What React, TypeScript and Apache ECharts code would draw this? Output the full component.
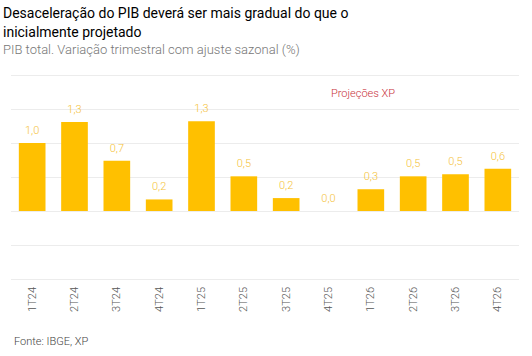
import React, { useEffect, useRef } from "react";
import * as echarts from "echarts";

const categories = ["1T24", "2T24", "3T24", "4T24", "1T25", "2T25", "3T25", "4T25", "1T26", "2T26", "3T26", "4T26"];
const values = [1.0, 1.31, 0.74, 0.17, 1.32, 0.51, 0.19, 0.0, 0.32, 0.51, 0.54, 0.62];
const yMin = -1;
const yMax = 2;
const yInterval = 0.5;

const titleText = "Desaceleração do PIB deverá ser mais gradual do que o\ninicialmente projetado";
const subtitleText = "PIB total. Variação trimestral com ajuste sazonal (%)";
const sourceText = "Fonte: IBGE, XP";
const annotationText = "Projeções XP";

export default function App() {
  const ref = useRef<HTMLDivElement>(null);
  useEffect(() => {
    if (!ref.current) return;
    const chart = echarts.init(ref.current, null, { renderer: "svg" });
    chart.setOption({
      animation: false,
      textStyle: { fontFamily: "Roboto" },
      title: [
        {
          text: titleText,
          left: 3,
          top: 3,
          padding: 0,
          textStyle: { fontFamily: "Roboto", fontSize: 14, fontWeight: "normal", color: "#000", lineHeight: 19 },
        },
        {
          text: subtitleText,
          left: 3,
          top: 41,
          padding: 0,
          textStyle: { fontFamily: "Roboto", fontSize: 13, fontWeight: 300, color: "#777", lineHeight: 16 },
        },
        {
          text: sourceText,
          left: 14,
          top: 334,
          padding: 0,
          textStyle: { fontFamily: "Roboto", fontSize: 11, fontWeight: 300, color: "#444", lineHeight: 14 },
        },
      ],
      graphic: [
        {
          type: "text",
          x: 363,
          y: 93,
          style: {
            text: annotationText,
            fontFamily: "Roboto",
            fontSize: 11,
            fontWeight: 300,
            fill: "#c8313a",
            align: "center",
            verticalAlign: "middle",
          },
        },
      ],
      grid: { left: 11, right: 13, top: 75, bottom: 77, containLabel: false },
      xAxis: {
        type: "category",
        data: categories,
        position: "bottom",
        axisLine: { show: false },
        axisTick: { show: false },
        axisLabel: {
          rotate: 90,
          fontFamily: "Roboto",
          fontSize: 11,
          fontWeight: 300,
          color: "#555",
          margin: 8,
        },
      },
      yAxis: {
        type: "value",
        min: yMin,
        max: yMax,
        interval: yInterval,
        axisLabel: { show: false },
        axisLine: { show: false },
        axisTick: { show: false },
        splitLine: { lineStyle: { color: "#ececec", width: 1 } },
      },
      series: [
        {
          type: "bar",
          data: values,
          barCategoryGap: "37%",
          itemStyle: { color: "#ffc000" },
          label: {
            show: true,
            position: "top",
            distance: 7,
            fontFamily: "Roboto",
            fontSize: 11,
            fontWeight: 300,
            color: "#f5c33b",
            formatter: (p: any) => Number(p.value).toFixed(1).replace(".", ","),
          },
        },
      ],
    });
    return () => chart.dispose();
  }, []);
  return <div ref={ref} style={{ position: "fixed", left: 0, top: 0, width: 532, height: 356, background: "#fff" }} />;
}
